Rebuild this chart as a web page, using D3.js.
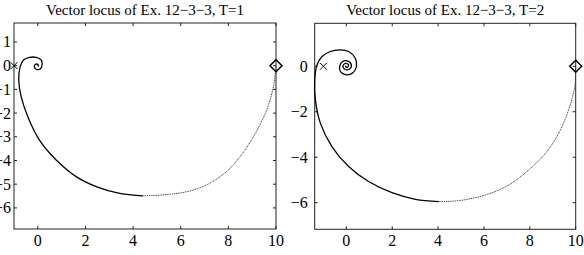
<!DOCTYPE html>
<html>
<head>
<meta charset="utf-8">
<script src="https://cdn.jsdelivr.net/npm/d3@7"></script>
<style>
  body { margin:0; background:#fff; }
  svg text { font-family:"Liberation Serif","Times New Roman",serif; fill:#000; }
</style>
</head>
<body>
<svg id="svg" width="584" height="255"></svg>
<script>
const re1 = [10, 9.96, 9.9, 9.61, 9.05, 8.49, 7.92, 7.08, 6.24, 5.12, 4.42, 3.44, 2.45, 1.61, 0.77, 0.07,
  -0.42, -0.7, -0.8, -0.74, -0.6, -0.35, -0.07, 0.14, 0.18, 0.1, -0.07, -0.15, -0.1, 0.01, 0.02, 0];
const im1 = [0, -0.4, -0.85, -1.87, -3.0, -3.84, -4.47, -5.03, -5.32, -5.46, -5.49, -5.39, -5.1, -4.68, -3.98, -3.14,
  -2.15, -1.31, -0.6, -0.04, 0.24, 0.35, 0.35, 0.24, 0.03, -0.14, -0.15, -0.04, 0.06, 0.04, -0.02, 0];

const re2 = [10, 9.99, 9.96, 9.69, 9.26, 8.68, 7.95, 7.08, 6.06, 4.9, 4.03, 3.01, 1.99, 0.97, 0.1, -0.63,
  -1.13, -1.35, -1.38, -1.28, -1.06, -0.7, -0.26, 0.1, 0.39, 0.44, 0.29, 0, -0.26, -0.29, -0.16, 0.07,
  0.22, 0.13, -0.07, -0.15, -0.04, 0.1, 0.03, -0.04, 0];
const im2 = [0, -0.4, -0.89, -1.92, -2.95, -3.83, -4.56, -5.22, -5.66, -5.91, -5.95, -5.85, -5.56, -5.07, -4.41, -3.53,
  -2.51, -1.48, -0.6, 0.06, 0.43, 0.65, 0.72, 0.65, 0.35, -0.01, -0.28, -0.38, -0.23, 0.01, 0.21, 0.23,
  0.06, -0.13, -0.13, 0.01, 0.13, 0.06, -0.06, 0, 0];

const xTicks1 = [0, 2, 4, 6, 8, 10];
const yTicks1 = [1, 0, -1, -2, -3, -4, -5, -6];
const xTicks2 = [0, 2, 4, 6, 8, 10];
const yTicks2 = [0, -2, -4, -6];

const panels = [
  { title: "Vector locus of Ex. 12\u22123\u22123, T=1", re: re1, im: im1, xd: [-1, 10], yd: [-6.89, 1.8],
    xr: [14, 276], yr: [229, 23], xt: xTicks1, yt: yTicks1, gap: 3 },
  { title: "Vector locus of Ex. 12\u22123\u22123, T=2", re: re2, im: im2, xd: [-1.38, 10], yd: [-7.17, 1.89],
    xr: [314.7, 575.7], yr: [229.3, 23.3], xt: xTicks2, yt: yTicks2, gap: 7 }
];

const svg = d3.select("#svg");
const fmt = d => (d < 0 ? "\u2212" + Math.abs(d) : "" + d);

panels.forEach(p => {
  const x = d3.scaleLinear().domain(p.xd).range(p.xr);
  const y = d3.scaleLinear().domain(p.yd).range(p.yr);
  const g = svg.append("g");

  // box
  g.append("rect")
    .attr("x", p.xr[0]).attr("y", p.yr[1])
    .attr("width", p.xr[1] - p.xr[0]).attr("height", p.yr[0] - p.yr[1])
    .attr("fill", "none").attr("stroke", "#222").attr("stroke-width", 1);

  // ticks (inside, mirrored)
  const tl = 3;
  p.xt.forEach(t => {
    g.append("line").attr("x1", x(t)).attr("x2", x(t)).attr("y1", p.yr[0]).attr("y2", p.yr[0] - tl).attr("stroke", "#222");
    g.append("line").attr("x1", x(t)).attr("x2", x(t)).attr("y1", p.yr[1]).attr("y2", p.yr[1] + tl).attr("stroke", "#222");
    g.append("text").attr("x", x(t)).attr("y", p.yr[0] + 17).attr("text-anchor", "middle")
      .attr("font-size", 16).text(fmt(t));
  });
  p.yt.forEach(t => {
    g.append("line").attr("y1", y(t)).attr("y2", y(t)).attr("x1", p.xr[0]).attr("x2", p.xr[0] + tl).attr("stroke", "#222");
    g.append("line").attr("y1", y(t)).attr("y2", y(t)).attr("x1", p.xr[1]).attr("x2", p.xr[1] - tl).attr("stroke", "#222");
    g.append("text").attr("x", p.xr[0] - p.gap).attr("y", y(t) + 5.5).attr("text-anchor", "end")
      .attr("font-size", 16).text(fmt(t));
  });

  // title
  g.append("text").attr("x", (p.xr[0] + p.xr[1]) / 2).attr("y", 15).attr("text-anchor", "middle")
    .attr("font-size", 15).text(p.title);

  // locus: dotted until the lowest point, solid afterwards
  const pts = p.re.map((r, i) => [r, p.im[i]]);
  const split = d3.minIndex(p.im);
  const line = d3.line().x(d => x(d[0])).y(d => y(d[1])).curve(d3.curveCatmullRom.alpha(0.5));
  g.append("path").attr("d", line(pts.slice(0, split + 1)))
    .attr("fill", "none").attr("stroke", "#333").attr("stroke-width", 1).attr("stroke-dasharray", "1,0.8");
  g.append("path").attr("d", line(pts.slice(split)))
    .attr("fill", "none").attr("stroke", "#000").attr("stroke-width", 1.3);

  // markers: diamond at start, cross at -1
  const dx = x(p.re[0]), dy = y(p.im[0]);
  g.append("path").attr("d", `M${dx},${dy - 6}L${dx + 6},${dy}L${dx},${dy + 6}L${dx - 6},${dy}Z`)
    .attr("fill", "none").attr("stroke", "#000").attr("stroke-width", 1.5);
  const cx = x(-1), cy = y(0);
  g.append("path").attr("d", `M${cx - 3.5},${cy - 3.5}L${cx + 3.5},${cy + 3.5}M${cx - 3.5},${cy + 3.5}L${cx + 3.5},${cy - 3.5}`)
    .attr("stroke", "#000").attr("stroke-width", 1);
});
</script>
</body>
</html>
